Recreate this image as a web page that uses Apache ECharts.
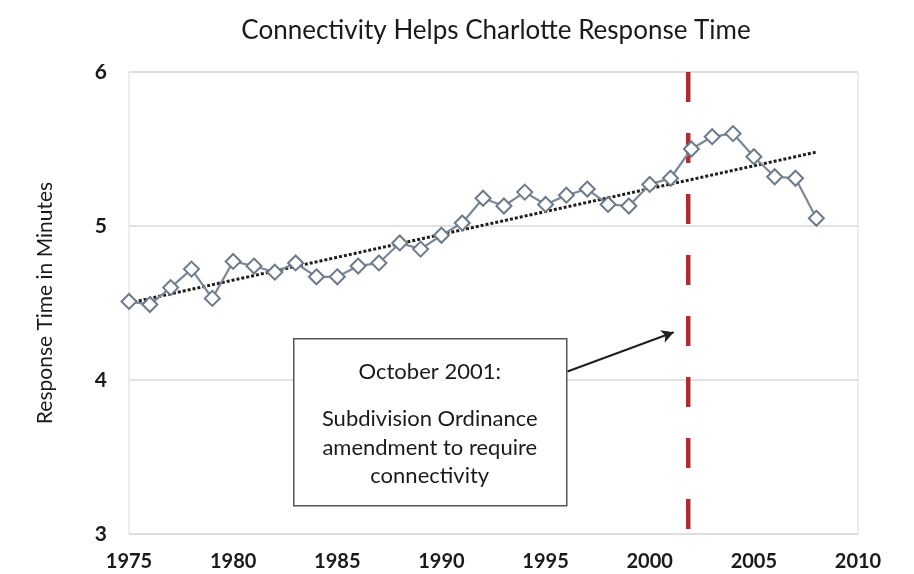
<!DOCTYPE html>
<html>
<head>
<meta charset="utf-8">
<script src="https://cdn.jsdelivr.net/npm/echarts@6/dist/echarts.min.js"></script>
<style>html,body{margin:0;padding:0;background:#fff;}#c{width:914px;height:574px;}</style>
</head>
<body>
<div id="c"></div>
<script>
// Data
const years = [1975,1976,1977,1978,1979,1980,1981,1982,1983,1984,1985,1986,1987,1988,1989,1990,1991,1992,1993,1994,1995,1996,1997,1998,1999,2000,2001,2002,2003,2004,2005,2006,2007,2008];
const responseTimes = [4.51,4.49,4.60,4.72,4.53,4.77,4.74,4.70,4.76,4.67,4.67,4.74,4.76,4.89,4.85,4.94,5.02,5.18,5.13,5.22,5.14,5.20,5.24,5.14,5.13,5.27,5.31,5.50,5.58,5.60,5.45,5.32,5.31,5.05];
const trendYears = [1975, 2008];
const trendValues = [4.50, 5.48];
const policyYear = 2001.85;
const yRange = [3, 6];
const xRange = [1975, 2010];
const arrowFrom = [1996.05, 4.055];
const arrowTo = [2001.15, 4.31];
const titleText = 'Connectivity Helps Charlotte Response Time';
const yAxisTitle = 'Response Time in Minutes';
const noteLines = ['October 2001:', 'Subdivision Ordinance', 'amendment to require', 'connectivity'];

const FONT = 'Lato';
const chart = echarts.init(document.getElementById('c'), null, {renderer: 'canvas'});

const option = {
  animation: false,
  backgroundColor: '#fff',
  title: {
    text: titleText,
    left: 491, top: 13, textAlign: 'center',
    textStyle: {fontFamily: FONT, fontSize: 26, fontWeight: 'normal', color: '#1a1a1a'}
  },
  grid: {left: 129, right: 56, top: 72, bottom: 40, show: true, borderColor: '#dcdcdc', borderWidth: 1},
  xAxis: {
    type: 'value', min: xRange[0], max: xRange[1], interval: 5,
    axisLine: {show: false}, axisTick: {show: false}, splitLine: {show: false},
    axisLabel: {fontFamily: FONT, fontSize: 20, fontWeight: 'bold', color: '#1a1a1a', margin: 18, formatter: v => String(v)}
  },
  yAxis: {
    type: 'value', min: yRange[0], max: yRange[1], interval: 1,
    name: yAxisTitle, nameLocation: 'middle', nameGap: 73,
    nameTextStyle: {fontFamily: FONT, fontSize: 21, color: '#1a1a1a'},
    axisLine: {show: false}, axisTick: {show: false},
    splitLine: {lineStyle: {color: '#d9d9d9', width: 1.5}},
    axisLabel: {fontFamily: FONT, fontSize: 21, fontWeight: 'bold', color: '#1a1a1a', margin: 22}
  },
  series: [
    {
      type: 'line', name: 'policy', silent: true, symbol: 'none', z: 1,
      data: [[policyYear, yRange[1]], [policyYear, yRange[0]]],
      lineStyle: {color: '#b8282c', width: 4.5, type: [30, 31]}
    },
    {
      type: 'line', name: 'trend', silent: true, symbol: 'none', z: 3,
      data: trendYears.map((y, i) => [y, trendValues[i]]),
      lineStyle: {color: '#1f1f1f', width: 3, type: [3, 2]}
    },
    {
      type: 'line', name: 'Response time', z: 4,
      data: years.map((y, i) => [y, responseTimes[i]]),
      symbol: 'diamond', symbolSize: 15,
      lineStyle: {color: '#7a8898', width: 2.2},
      itemStyle: {color: '#ffffff', borderColor: '#6c7b8c', borderWidth: 2},
      markLine: {
        silent: true, symbol: ['none', 'arrow'], symbolSize: [10, 12],
        label: {show: false},
        lineStyle: {color: '#1f1f1f', width: 2, type: 'solid'},
        data: [[{coord: arrowFrom}, {coord: arrowTo}]]
      }
    }
  ],
  graphic: [
    {
      type: 'group', left: 293, top: 338, z: 100,
      children: [
        {type: 'rect', z: 100, shape: {x: 0, y: 0, width: 273, height: 167}, style: {fill: '#fff', stroke: '#555', lineWidth: 1.5}},
        {type: 'text', z: 101, style: {text: noteLines[0], x: 136, y: 33, textAlign: 'center', textVerticalAlign: 'middle', font: '22px Lato', fill: '#1a1a1a'}},
        {type: 'text', z: 101, style: {text: noteLines[1], x: 136, y: 80, textAlign: 'center', textVerticalAlign: 'middle', font: '22px Lato', fill: '#1a1a1a'}},
        {type: 'text', z: 101, style: {text: noteLines[2], x: 136, y: 109, textAlign: 'center', textVerticalAlign: 'middle', font: '22px Lato', fill: '#1a1a1a'}},
        {type: 'text', z: 101, style: {text: noteLines[3], x: 136, y: 137, textAlign: 'center', textVerticalAlign: 'middle', font: '22px Lato', fill: '#1a1a1a'}}
      ]
    }
  ]
};
chart.setOption(option);
</script>
</body>
</html>
